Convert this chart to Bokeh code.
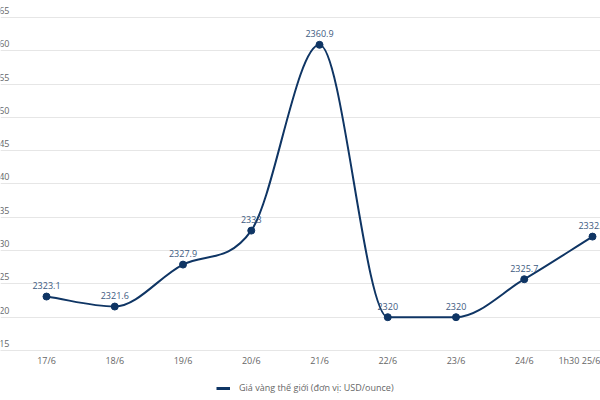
import numpy as np
from bokeh.plotting import figure
from bokeh.layouts import column
from bokeh.models import ColumnDataSource, FixedTicker, Legend, LegendItem, Range1d
from bokeh.core.properties import value
from bokeh.embed import file_html
from bokeh.resources import INLINE

# ---- data ----
dates = ["17/6", "18/6", "19/6", "20/6", "21/6", "22/6", "23/6", "24/6", "1h30 25/6"]
prices = [2323.1, 2321.6, 2327.9, 2333.0, 2360.9, 2320.0, 2320.0, 2325.7, 2332.1]
price_labels = ["2323.1", "2321.6", "2327.9", "2333", "2360.9", "2320", "2320", "2325.7", "2332.1"]
y_ticks = [2315, 2320, 2325, 2330, 2335, 2340, 2345, 2350, 2355, 2360, 2365]
series_name = "Giá vàng thế giới (đơn vị: USD/ounce)"

LINE = "#0f3564"
LABEL = "#3d5a80"
GRAY = "#666666"
FONT = "Open Sans"

xs = np.arange(len(prices), dtype=float)
ys = np.array(prices, dtype=float)

# monotone cubic (Fritsch-Carlson) control points, as a spline renderer does
n = len(ys)
dk = np.diff(ys) / np.diff(xs)
mk = np.zeros(n)
mk[0] = dk[0]
mk[-1] = dk[-1]
for i in range(1, n - 1):
    if dk[i - 1] == 0 or dk[i] == 0 or np.sign(dk[i - 1]) != np.sign(dk[i]):
        mk[i] = 0.0
    else:
        mk[i] = (dk[i - 1] + dk[i]) / 2.0
for i in range(n - 1):
    if abs(dk[i]) < 1e-12:
        mk[i] = mk[i + 1] = 0.0
        continue
    a = mk[i] / dk[i]
    b = mk[i + 1] / dk[i]
    s = a * a + b * b
    if s <= 9:
        continue
    t = 3.0 / np.sqrt(s)
    mk[i] = a * t * dk[i]
    mk[i + 1] = b * t * dk[i]
dx = np.diff(xs) / 3.0
seg = dict(
    x0=xs[:-1], y0=ys[:-1], x1=xs[1:], y1=ys[1:],
    cx0=xs[:-1] + dx, cy0=ys[:-1] + dx * mk[:-1],
    cx1=xs[1:] - dx, cy1=ys[1:] - dx * mk[1:],
)

p = figure(width=600, height=372, output_backend="svg", toolbar_location=None,
           x_range=Range1d(-0.674, 8.117), y_range=Range1d(2315, 2367.55),
           y_axis_location=None, min_border_left=0, min_border_right=0,
           min_border_top=0, min_border_bottom=22)
p.outline_line_color = None
p.background_fill_color = "white"
p.xgrid.grid_line_color = None
p.ygrid.ticker = FixedTicker(ticks=y_ticks)
p.ygrid.grid_line_color = "#e6e6e6"
p.ygrid.grid_line_width = 1

xa = p.xaxis[0]
xa.ticker = FixedTicker(ticks=list(range(len(dates))))
xa.major_label_overrides = {i: d for i, d in enumerate(dates)}
xa.major_label_text_font = FONT
xa.major_label_text_font_size = "9px"
xa.major_label_text_color = GRAY
xa.major_label_standoff = 3
xa.major_tick_line_color = None
xa.major_tick_out = 0
xa.minor_tick_line_color = None
xa.axis_line_color = "#e6e6e6"

# cut-off y tick labels at the left edge
p.text(x=[-0.542] * len(y_ticks), y=y_ticks, text=[str(t) for t in y_ticks],
       text_align="right", text_baseline="middle", y_offset=-7,
       text_font=value(FONT), text_font_size="9px", text_color=GRAY)

p.bezier(source=ColumnDataSource(seg), x0="x0", y0="y0", x1="x1", y1="y1",
         cx0="cx0", cy0="cy0", cx1="cx1", cy1="cy1",
         line_color=LINE, line_width=2)
p.scatter(xs, ys, size=7, fill_color=LINE, line_color=LINE)
p.text(x=xs, y=ys, text=price_labels, text_align="center", text_baseline="middle",
       y_offset=-11, text_font=value(FONT), text_font_size="9px", text_color=LABEL)

# legend strip below the chart
lg = figure(width=600, height=28, output_backend="svg", toolbar_location=None,
            x_range=Range1d(0, 1), y_range=Range1d(0, 1),
            x_axis_location=None, y_axis_location=None,
            min_border_left=0, min_border_right=0, min_border_top=0, min_border_bottom=0)
lg.outline_line_color = None
lg.xgrid.grid_line_color = None
lg.ygrid.grid_line_color = None
leg_r = lg.line(x=[5, 6], y=[5, 6], line_color=LINE, line_width=3)
legend = Legend(items=[LegendItem(label=series_name, renderers=[leg_r])],
                location=(216, 6), orientation="horizontal",
                label_text_font=FONT, label_text_font_size="9px",
                label_text_color=GRAY, glyph_width=14, glyph_height=12,
                border_line_color=None, background_fill_alpha=0,
                padding=2, margin=0, label_standoff=9)
lg.add_layout(legend)

open("out.html", "w").write(file_html(column(p, lg, spacing=0), INLINE))
